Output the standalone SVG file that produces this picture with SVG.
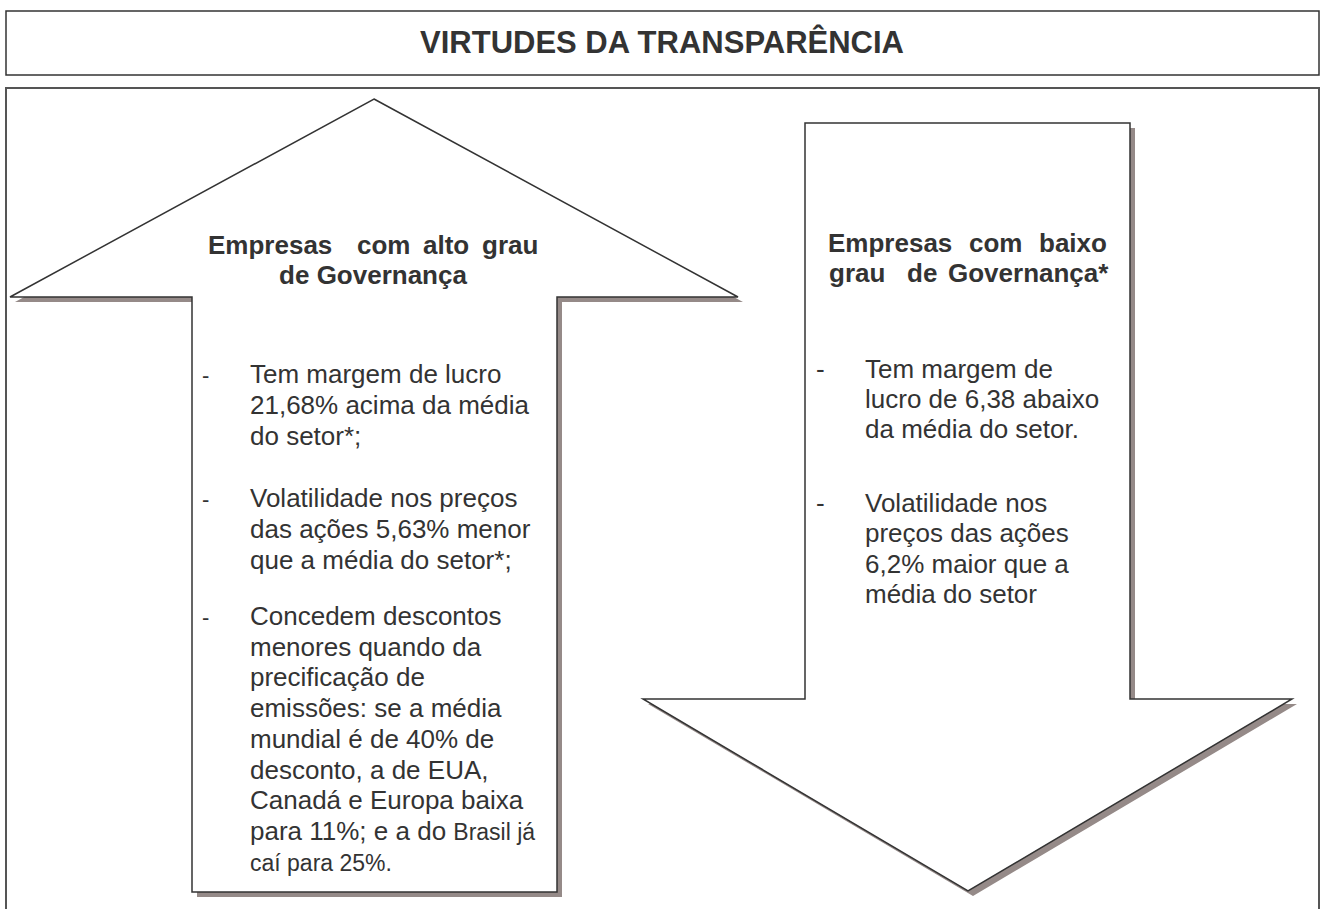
<svg xmlns="http://www.w3.org/2000/svg" width="1325" height="909" viewBox="0 0 1325 909">
<style>
text{font-family:"Liberation Sans",Arial,sans-serif;fill:#333}
.t{font-size:31px;font-weight:bold}
.h{font-size:26px;font-weight:bold}
.b{font-size:26px}
.d{font-size:22px}
.sm{font-size:23px}
.box{fill:#fff;stroke:#333;stroke-width:1.5}
.sh{fill:#958a88}
.ar{fill:#fff;stroke:#333;stroke-width:1.5;stroke-linejoin:miter}
</style>
<rect width="1325" height="909" fill="#fff"/>
<g id="title">
<rect class="box" x="6" y="11" width="1313" height="64"/>
<text class="t" x="662" y="53" text-anchor="middle">VIRTUDES DA TRANSPARÊNCIA</text>
</g>
<g id="frame">
<rect x="6" y="88" width="1313" height="830" fill="none" stroke="#555" stroke-width="2"/>
</g>
<g id="connectors"></g>
<g id="up-arrow">
<polygon class="sh" points="379,104 743,302 562,302 562,897 197,897 197,302 15,302"/>
<polygon class="ar" points="374,99 738,297 557,297 557,892 192,892 192,297 10,297"/>
<text class="h" y="254"><tspan x="208">Empresas</tspan><tspan x="357">com</tspan><tspan x="423">alto</tspan><tspan x="482">grau</tspan></text>
<text class="h" x="373" y="284" text-anchor="middle">de Governança</text>
<text class="d" x="202" y="383">-</text>
<text class="b" x="250" y="383">Tem margem de lucro</text>
<text class="b" x="250" y="414">21,68% acima da média</text>
<text class="b" x="250" y="445">do setor*;</text>
<text class="d" x="202" y="507">-</text>
<text class="b" x="250" y="507">Volatilidade nos preços</text>
<text class="b" x="250" y="538">das ações 5,63% menor</text>
<text class="b" x="250" y="569">que a média do setor*;</text>
<text class="d" x="202" y="625">-</text>
<text class="b" x="250" y="625">Concedem descontos</text>
<text class="b" x="250" y="655.7">menores quando da</text>
<text class="b" x="250" y="686.4">precificação de</text>
<text class="b" x="250" y="717.1">emissões: se a média</text>
<text class="b" x="250" y="747.8">mundial é de 40% de</text>
<text class="b" x="250" y="778.5">desconto, a de EUA,</text>
<text class="b" x="250" y="809.2">Canadá e Europa baixa</text>
<text class="b" x="250" y="839.9">para 11%; e a do <tspan class="sm">Brasil já</tspan></text>
<text class="sm" x="250" y="870.6">caí para 25%.</text>
</g>
<g id="down-arrow">
<polygon class="sh" points="810,128 1135,128 1135,704 1297,704 973,896 648,704 810,704"/>
<polygon class="ar" points="805,123 1130,123 1130,699 1292,699 968,891 643,699 805,699"/>
<text class="h" y="252"><tspan x="828">Empresas</tspan><tspan x="969">com</tspan><tspan x="1039">baixo</tspan></text>
<text class="h" y="282"><tspan x="829">grau</tspan><tspan x="907">de</tspan><tspan x="948">Governança*</tspan></text>
<text class="b" x="816" y="378">-</text>
<text class="b" x="865" y="378">Tem margem de</text>
<text class="b" x="865" y="408">lucro de 6,38 abaixo</text>
<text class="b" x="865" y="438">da média do setor.</text>
<text class="b" x="816" y="512">-</text>
<text class="b" x="865" y="512">Volatilidade nos</text>
<text class="b" x="865" y="542">preços das ações</text>
<text class="b" x="865" y="573">6,2%  maior que a</text>
<text class="b" x="865" y="603">média do setor</text>
</g>
</svg>
